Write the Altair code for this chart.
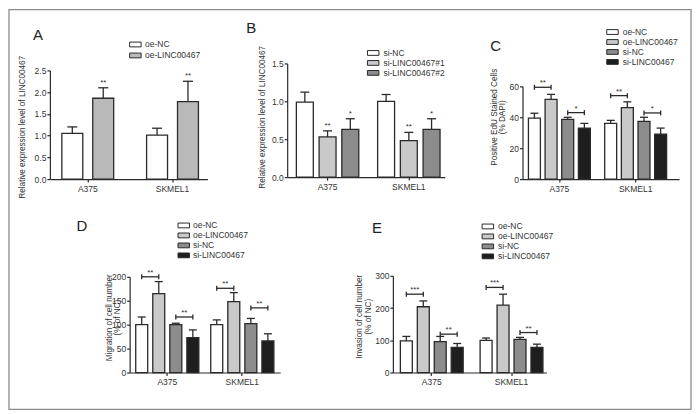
import altair as alt
import pandas as pd

FONT = "Liberation Sans"
INK = "#2a2a2a"
TXT = "#333333"
FRAME = "#8c8c8c"

groups = ["A375", "SKMEL1"]

# ---------------- Panel A ----------------
a_series = ["oe-NC", "oe-LINC00467"]
a_fill = ["#ffffff", "#b9b9b9"]
a_mean_A375 = [1.05, 1.86]
a_top_A375 = [1.20, 2.10]
a_mean_SKMEL1 = [1.01, 1.78]
a_top_SKMEL1 = [1.17, 2.25]
a_star = ["", "**"]
a_ticks = [0, 0.5, 1.0, 1.5, 2.0, 2.5]

# ---------------- Panel B ----------------
b_series = ["si-NC", "si-LINC00467#1", "si-LINC00467#2"]
b_fill = ["#ffffff", "#c9c9c9", "#8c8c8c"]
b_mean_A375 = [0.99, 0.53, 0.63]
b_top_A375 = [1.12, 0.61, 0.77]
b_mean_SKMEL1 = [1.00, 0.48, 0.63]
b_top_SKMEL1 = [1.09, 0.59, 0.77]
b_star = ["", "**", "*"]
b_ticks = [0, 0.5, 1.0, 1.5]

# ---------------- Panels C, D, E ----------------
cde_series = ["oe-NC", "oe-LINC00467", "si-NC", "si-LINC00467"]
cde_fill = ["#ffffff", "#c9c9c9", "#8c8c8c", "#1e1e1e"]

c_mean_A375 = [39.4, 51.6, 38.7, 32.9]
c_top_A375 = [42.6, 54.8, 40.0, 36.0]
c_mean_SKMEL1 = [36.0, 46.3, 37.4, 29.0]
c_top_SKMEL1 = [38.0, 50.0, 40.0, 33.0]
c_bracket_A375 = [59.4, 43.0]
c_bracket_SKMEL1 = [54.0, 42.8]
c_bracket_star = ["**", "*"]
c_ticks = [0, 20, 40, 60]

d_mean_A375 = [100, 165, 100, 73]
d_top_A375 = [116, 190, 103, 89]
d_mean_SKMEL1 = [100, 148, 102, 66]
d_top_SKMEL1 = [110, 167, 113, 81]
d_bracket_A375 = [200, 116]
d_bracket_SKMEL1 = [176, 135]
d_bracket_star = ["**", "**"]
d_ticks = [0, 50, 100, 150, 200]

e_mean_A375 = [98, 204, 96, 78]
e_top_A375 = [112, 222, 112, 90]
e_mean_SKMEL1 = [100, 209, 103, 78]
e_top_SKMEL1 = [107, 243, 109, 88]
e_bracket_A375 = [243, 119]
e_bracket_SKMEL1 = [264, 124]
e_bracket_star = ["***", "**"]
e_ticks = [0, 100, 200, 300]

# ---------------- layout (page pixels) ----------------
ROW1_TOP = 62
ROW2_TOP = 275
COL_X = [49, 129, 287, 393, 523]
COL_W = [COL_X[i + 1] - COL_X[i] for i in range(4)] + [160]
FRAME_BOX = (8, 8, 692, 409)

LAY = {
    "A": dict(col=0, xl=49, xr=207, y0=178, ytop=69, g1=87, g2=172, q=31, bar=21, cap=10,
              lx=129.75, ly=38.0, rowpad=1.0, loff=4.75, letter=(37, 33.5), title=(22, 126), top=ROW1_TOP),
    "B": dict(col=2, xl=287, xr=445, y0=176, ytop=62, g1=327.5, g2=409, q=22.8, bar=17, cap=9,
              lx=368.25, ly=46.5, rowpad=-2.0, loff=5.25, letter=(251, 26.5), title=(263, 116), top=ROW1_TOP),
    "C": dict(col=4, xl=523, xr=680, y0=178, ytop=85, g1=560, g2=636.5, q=16.7, bar=12, cap=8,
              lx=608.25, ly=25.5, rowpad=-2.2, loff=5.25, letter=(496, 45), title=(495, 116), top=ROW1_TOP),
    "D": dict(col=1, xl=129, xr=280, y0=372, ytop=276, g1=166.75, g2=242, q=17.1, bar=12, cap=8,
              lx=178.25, ly=219.5, rowpad=-2.2, loff=4.25, letter=(81, 225), title=(109.5, 317), top=ROW2_TOP),
    "E": dict(col=3, xl=393, xr=547, y0=372, ytop=275, g1=432, g2=512, q=17, bar=12, cap=8,
              lx=483.25, ly=220.5, rowpad=-2.2, loff=5.25, letter=(377, 227), title=(360.5, 316), top=ROW2_TOP),
}

SYM = "M-1.355,-0.566H1.355V0.566H-1.355Z"
SYM_SIZE = 72


def one_row():
    return pd.DataFrame({"k": [0]})


def spacer(w):
    return alt.Chart(one_row()).mark_point(opacity=0).encode(
        x=alt.value(0), y=alt.value(0)).properties(width=w, height=10)


def make_panel(key, series, fills, means, tops, ticks, fmt, title,
               stars=None, brackets=None, bracket_stars=None, frame=False):
    L = LAY[key]
    cx = COL_X[L["col"]]
    n = len(series)
    if brackets is not None:
        slots = []
        for i, s in enumerate(series):
            slots.append(s)
            if i < n - 1:
                slots.append("gap%d" % i)
        step = L["q"] / 2.0
    else:
        slots = list(series)
        step = L["q"]
    k = len(slots)
    bw = k * step
    x0 = L["xl"] - cx
    Wp = L["xr"] - L["xl"]
    c1 = L["g1"] - L["xl"]
    d = L["g2"] - L["g1"]
    pin = 1 - bw / d
    left = Wp - d - bw
    pout = left / (2 * d)
    al = min(1.0, max(0.0, (c1 - bw / 2) / left))
    T = L["top"]
    H = L["y0"] - T

    xs = alt.Scale(domain=groups, range=[x0, x0 + Wp], paddingInner=pin, paddingOuter=pout, align=al)
    X = alt.X("group:N", scale=xs, title=None,
              axis=alt.Axis(labelAngle=0, tickSize=3, labelPadding=2, domainColor=INK,
                            tickColor=INK, labelFontSize=8.5))
    XO = alt.XOffset("slot:N", scale=alt.Scale(domain=slots, paddingInner=0, paddingOuter=0))
    ys = alt.Scale(domain=[ticks[0], ticks[-1]], range=[L["y0"] - T, L["ytop"] - T], nice=False)
    yaxis = alt.Axis(values=ticks, format=fmt, title=None, tickSize=3, labelPadding=1,
                     labelFontSize=8.5, domainColor=INK, tickColor=INK)

    rows = []
    for g in groups:
        for i, s in enumerate(series):
            rows.append(dict(group=g, series=s, slot=s, mean=means[g][i], top=tops[g][i],
                             star=(stars[i] if stars else "")))
    df = pd.DataFrame(rows)

    leg = alt.Legend(orient="none", legendX=L["lx"] - cx, legendY=L["ly"] - T, title=None,
                     symbolType=SYM, symbolSize=SYM_SIZE, symbolStrokeColor=INK,
                     symbolStrokeWidth=1, labelFont=FONT, labelFontSize=8.5, labelColor=TXT,
                     rowPadding=L["rowpad"], labelOffset=L["loff"], padding=0)

    layers = []
    if frame:
        bx1, by1, bx2, by2 = FRAME_BOX
        layers.append(alt.Chart(one_row()).mark_rect(fill="white", fillOpacity=0, stroke=FRAME,
                                                     strokeWidth=1.3).encode(
            x=alt.value(bx1 - cx), x2=alt.value(bx2 - cx),
            y=alt.value(by1 - T), y2=alt.value(by2 - T)))

    layers.append(alt.Chart(df).mark_rule(color=INK, strokeWidth=1.3).encode(
        x=X, xOffset=XO, y=alt.Y("mean:Q", scale=ys, axis=yaxis), y2="top:Q"))
    layers.append(alt.Chart(df).mark_tick(orient="horizontal", size=L["cap"], thickness=1.3,
                                          color=INK, opacity=1).encode(
        x=X, xOffset=XO, y=alt.Y("top:Q", scale=ys, axis=yaxis)))
    layers.append(alt.Chart(df).mark_bar(width=L["bar"], stroke=INK, strokeWidth=1.3, opacity=1).encode(
        x=X, xOffset=XO, y=alt.Y("mean:Q", scale=ys, axis=yaxis),
        fill=alt.Fill("series:N", scale=alt.Scale(domain=series, range=fills), legend=leg)))

    if stars:
        sdf = df[df["star"] != ""]
        layers.append(alt.Chart(sdf).mark_text(font=FONT, fontSize=8, color=TXT, baseline="middle",
                                               dy=-5).encode(
            x=X, xOffset=XO, y=alt.Y("top:Q", scale=ys, axis=yaxis), text="star:N"))

    if brackets is not None:
        mid_rows, end_rows = [], []
        for g in groups:
            for p, yv in enumerate(brackets[g]):
                a, b = 2 * p, 2 * p + 1
                mid_rows.append(dict(group=g, slot="gap%d" % a, yb=yv, star=bracket_stars[p]))
                end_rows.append(dict(group=g, slot=series[a], yb=yv))
                end_rows.append(dict(group=g, slot=series[b], yb=yv))
        mdf = pd.DataFrame(mid_rows)
        edf = pd.DataFrame(end_rows)
        layers.append(alt.Chart(mdf).mark_tick(orient="horizontal", size=2 * step, thickness=1.3,
                                               color=INK, opacity=1).encode(
            x=X, xOffset=XO, y=alt.Y("yb:Q", scale=ys, axis=yaxis)))
        layers.append(alt.Chart(edf).mark_tick(orient="vertical", size=5, thickness=1.3,
                                               color=INK, opacity=1).encode(
            x=X, xOffset=XO, y=alt.Y("yb:Q", scale=ys, axis=yaxis)))
        layers.append(alt.Chart(mdf).mark_text(font=FONT, fontSize=8, color=TXT, baseline="middle",
                                               dy=-4).encode(
            x=X, xOffset=XO, y=alt.Y("yb:Q", scale=ys, axis=yaxis), text="star:N"))

    # y-axis title (rotated text), centred on its measured position
    layers.append(alt.Chart(one_row()).mark_text(
        font=FONT, fontSize=8.2, color=TXT, angle=270, align="center", baseline="middle",
        lineHeight=8.3).encode(
        x=alt.value(L["title"][0] - cx), y=alt.value(L["title"][1] - T), text=alt.value(title)))

    layers.append(alt.Chart(pd.DataFrame({"t": [key]})).mark_text(
        font=FONT, fontSize=15, color="#222222", align="center", baseline="middle").encode(
        x=alt.value(L["letter"][0] - cx), y=alt.value(L["letter"][1] - T), text="t:N"))

    return alt.layer(*layers).properties(width=COL_W[L["col"]], height=H)


pA = make_panel("A", a_series, a_fill,
                {"A375": a_mean_A375, "SKMEL1": a_mean_SKMEL1},
                {"A375": a_top_A375, "SKMEL1": a_top_SKMEL1},
                a_ticks, ".1f", "Relative expression level of LINC00467", stars=a_star, frame=True)
pB = make_panel("B", b_series, b_fill,
                {"A375": b_mean_A375, "SKMEL1": b_mean_SKMEL1},
                {"A375": b_top_A375, "SKMEL1": b_top_SKMEL1},
                b_ticks, ".1f", "Relative expression level of LINC00467", stars=b_star)
pC = make_panel("C", cde_series, cde_fill,
                {"A375": c_mean_A375, "SKMEL1": c_mean_SKMEL1},
                {"A375": c_top_A375, "SKMEL1": c_top_SKMEL1},
                c_ticks, "d", ["Positive EdU Stained Cells", "(% DAPI)"],
                brackets={"A375": c_bracket_A375, "SKMEL1": c_bracket_SKMEL1},
                bracket_stars=c_bracket_star)
pD = make_panel("D", cde_series, cde_fill,
                {"A375": d_mean_A375, "SKMEL1": d_mean_SKMEL1},
                {"A375": d_top_A375, "SKMEL1": d_top_SKMEL1},
                d_ticks, "d", ["Migration of cell number", "(% of NC)"],
                brackets={"A375": d_bracket_A375, "SKMEL1": d_bracket_SKMEL1},
                bracket_stars=d_bracket_star)
pE = make_panel("E", cde_series, cde_fill,
                {"A375": e_mean_A375, "SKMEL1": e_mean_SKMEL1},
                {"A375": e_top_A375, "SKMEL1": e_top_SKMEL1},
                e_ticks, "d", ["Invasion of cell number", "(% of NC)"],
                brackets={"A375": e_bracket_A375, "SKMEL1": e_bracket_SKMEL1},
                bracket_stars=e_bracket_star)

row1_h = max(LAY[k]["y0"] - ROW1_TOP for k in "ABC")

# grid of 5 columns: row 1 = A . B . C ; row 2 = . D . E
chart = alt.concat(
    pA, spacer(COL_W[1]), pB, spacer(COL_W[3]), pC,
    spacer(COL_W[0]), pD, spacer(COL_W[2]), pE,
    columns=5,
    spacing={"row": ROW2_TOP - (ROW1_TOP + row1_h), "column": 0},
    bounds="flush", align="each",
).resolve_scale(
    x="independent", y="independent", xOffset="independent", fill="independent"
).resolve_legend(fill="independent").properties(
    padding=0, background="white"
).configure_view(strokeWidth=0).configure_axis(
    grid=False, labelFont=FONT, titleFont=FONT, labelColor=TXT, titleColor=TXT,
    titleFontWeight="normal", domainWidth=1.2, tickWidth=1.2
)

chart.save("out.html", embed_options={"renderer": "svg", "actions": False})
